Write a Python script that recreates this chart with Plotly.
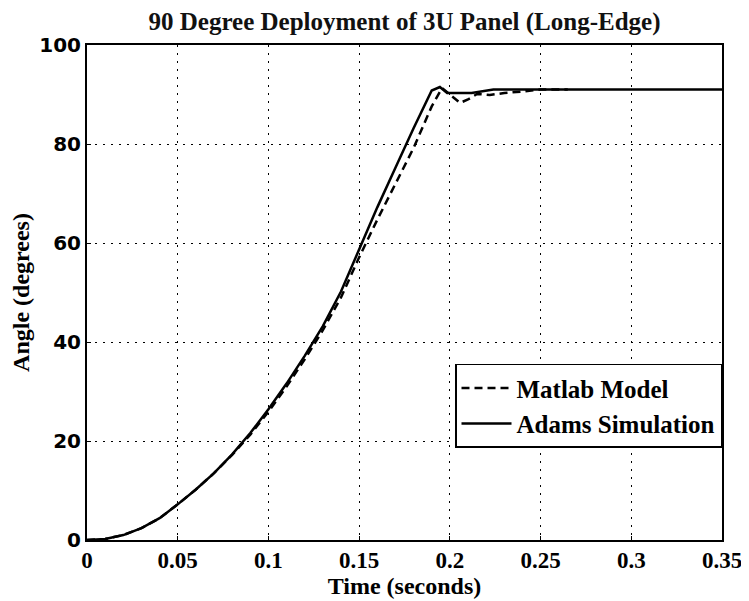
import plotly.graph_objects as go

# Adams Simulation (solid)
adams_t = [0.0, 0.01, 0.02, 0.03, 0.04, 0.05, 0.06, 0.07, 0.08, 0.09, 0.10, 0.11, 0.12,
           0.13, 0.14, 0.15, 0.16, 0.17, 0.18, 0.19, 0.1945, 0.1985, 0.212, 0.224, 0.35]
adams_y = [0.0, 0.2, 1.0, 2.4, 4.4, 7.2, 10.2, 13.5, 17.3, 21.6, 26.4, 31.6, 37.2,
           43.2, 50.2, 58.8, 67.2, 75.2, 83.2, 90.8, 91.5, 90.3, 90.3, 91.0, 91.0]

# Matlab Model (dashed)
matlab_t = [0.0, 0.01, 0.02, 0.03, 0.04, 0.05, 0.06, 0.07, 0.08, 0.09, 0.10, 0.11, 0.12,
            0.13, 0.14, 0.15, 0.16, 0.17, 0.18, 0.19, 0.1957, 0.200, 0.2056, 0.21,
            0.215, 0.222, 0.23, 0.24, 0.25, 0.265]
matlab_y = [0.0, 0.2, 1.0, 2.4, 4.4, 7.2, 10.2, 13.5, 17.2, 21.3, 25.9, 31.0, 36.5,
            42.4, 49.0, 57.1, 64.7, 72.0, 79.2, 87.6, 91.3, 90.0, 88.3, 89.0,
            90.1, 89.9, 90.3, 90.6, 91.0, 91.0]

x_ticks = [0, 0.05, 0.1, 0.15, 0.2, 0.25, 0.3, 0.35]
x_tick_text = ["<b>0</b>", "<b>0.05</b>", "<b>0.1</b>", "<b>0.15</b>", "<b>0.2</b>",
               "<b>0.25</b>", "<b>0.3</b>", "<b>0.35</b>"]
y_ticks = [0, 20, 40, 60, 80, 100]
y_tick_text = ["<b>0</b>", "<b>20</b>", "<b>40</b>", "<b>60</b>", "<b>80</b>", "<b>100</b>"]

serif = "Liberation Serif, Times New Roman, serif"
sans = "DejaVu Sans, Verdana, sans-serif"

fig = go.Figure()
fig.add_trace(go.Scatter(x=matlab_t, y=matlab_y, mode="lines", name="<b>Matlab Model</b>",
                         line=dict(color="black", width=2.5, dash="8px,5px")))
fig.add_trace(go.Scatter(x=adams_t, y=adams_y, mode="lines", name="<b>Adams Simulation</b>",
                         line=dict(color="black", width=2.5)))

# page body has an 8px default margin, so the figure is sized to fit the window
fig.update_layout(
    width=741, height=593,
    margin=dict(l=79, r=27, t=37, b=61, autoexpand=False),
    paper_bgcolor="white", plot_bgcolor="white",
    title=dict(text="<b>90 Degree Deployment of 3U Panel (Long-Edge)</b>",
               font=dict(family=serif, size=25, color="#111"),
               xref="paper", x=0.5, xanchor="center",
               yref="container", y=0.977, yanchor="middle"),
    showlegend=True,
    legend=dict(x=1, xanchor="right", y=0.356, yanchor="top",
                bgcolor="white", bordercolor="black", borderwidth=1.5,
                font=dict(family=serif, size=25, color="black"),
                tracegroupgap=0, itemwidth=50),
    xaxis=dict(range=[0, 0.35], tickvals=x_ticks, ticktext=x_tick_text,
               showgrid=True, gridcolor="black", griddash="2px,6px", gridwidth=1.2,
               showline=True, linecolor="black", linewidth=2, mirror=True,
               ticks="inside", ticklen=4, tickcolor="black",
               tickfont=dict(family=serif, size=23, color="black"),
               ticklabelstandoff=-2,
               title=dict(text="<b>Time (seconds)</b>", font=dict(family=serif, size=24, color="black"),
                          standoff=0),
               zeroline=False, automargin=False),
    yaxis=dict(range=[0, 100], tickvals=y_ticks, ticktext=y_tick_text,
               showgrid=True, gridcolor="black", griddash="2px,6px", gridwidth=1.2,
               showline=True, linecolor="black", linewidth=2, mirror=True,
               ticks="inside", ticklen=4, tickcolor="black",
               tickfont=dict(family=sans, size=20, color="black"),
               title=dict(text="<b>Angle (degrees)</b>", font=dict(family=serif, size=24, color="black"),
                          standoff=6),
               zeroline=False, automargin=False),
)

fig.write_html("out.html")
